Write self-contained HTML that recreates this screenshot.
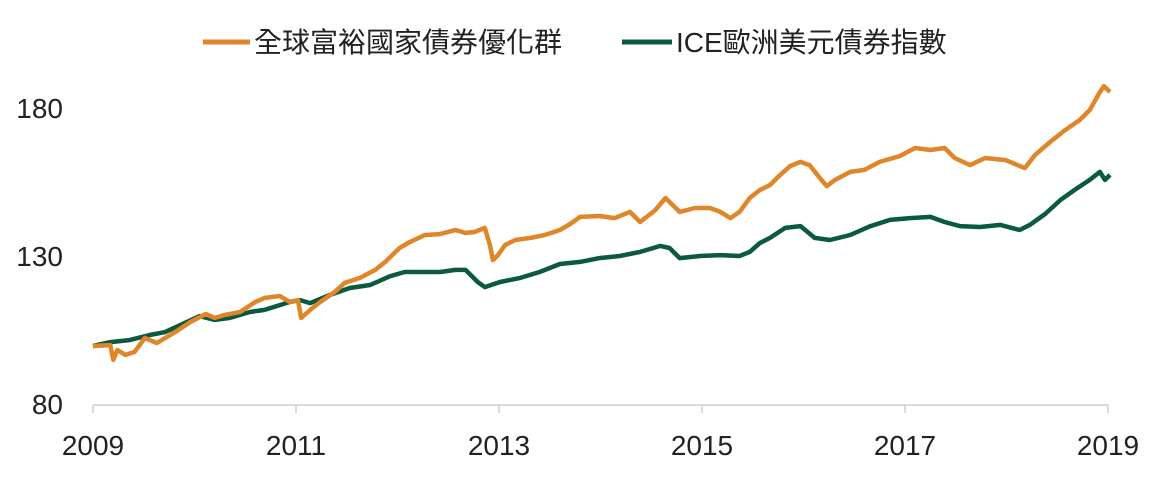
<!DOCTYPE html>
<html><head><meta charset="utf-8"><style>
body{margin:0;background:#fff;}
svg text{font-family:"Liberation Sans","Noto Sans CJK TC",sans-serif;fill:#222;}
</style></head><body>
<svg width="1153" height="473" viewBox="0 0 1153 473">
<g>
<line x1="203" y1="42" x2="250" y2="42" stroke="#E0862A" stroke-width="5"/>
<text x="254" y="52" font-size="28">全球富裕國家債券優化群</text>
<line x1="622" y1="42" x2="672" y2="42" stroke="#0B5A3F" stroke-width="5"/>
<text x="676" y="52" font-size="28">ICE歐洲美元債券指數</text>
</g>
<g id="axes"></g>
<g id="series"></g>
</svg>
<script>
const yTicks=[80,130,180];
const xTicks=[2009,2011,2013,2015,2017,2019];
const globalYears=[2009.00,2009.17,2009.20,2009.24,2009.32,2009.41,2009.51,2009.63,2009.71,2009.81,2009.96,2010.11,2010.20,2010.30,2010.45,2010.60,2010.69,2010.84,2010.94,2011.02,2011.05,2011.14,2011.24,2011.38,2011.48,2011.63,2011.78,2011.88,2012.02,2012.12,2012.27,2012.42,2012.57,2012.67,2012.76,2012.86,2012.91,2012.94,2012.99,2013.06,2013.16,2013.31,2013.45,2013.60,2013.70,2013.80,2013.99,2014.14,2014.29,2014.39,2014.54,2014.64,2014.78,2014.93,2015.08,2015.18,2015.28,2015.37,2015.47,2015.57,2015.67,2015.77,2015.87,2015.97,2016.06,2016.16,2016.23,2016.31,2016.46,2016.60,2016.75,2016.95,2017.10,2017.25,2017.39,2017.49,2017.64,2017.79,2017.99,2018.18,2018.28,2018.43,2018.58,2018.72,2018.82,2018.92,2018.96,2019.02];
const globalValues=[99.6,99.9,94.9,98.2,96.6,97.6,102.3,100.6,102.3,104.3,107.7,110.4,109.1,110.1,111.1,114.5,115.8,116.5,114.5,115.1,109.1,111.8,114.5,117.8,120.9,122.6,125.3,128.0,132.7,134.7,137.1,137.4,138.8,137.8,138.1,139.5,133.7,128.6,130.3,133.7,135.4,136.1,137.1,138.8,140.8,143.2,143.5,142.8,144.9,141.5,145.5,149.6,144.9,146.2,146.2,144.9,142.8,144.9,149.6,152.3,154.0,157.4,160.4,161.8,160.7,156.4,153.6,155.7,158.4,159.1,161.8,163.8,166.5,165.8,166.5,163.1,160.7,163.1,162.4,159.7,164.1,168.5,172.6,175.9,179.3,185.4,187.4,185.4];
const iceYears=[2009.00,2009.17,2009.36,2009.56,2009.71,2009.86,2010.05,2010.20,2010.35,2010.55,2010.69,2010.84,2010.94,2011.04,2011.14,2011.33,2011.53,2011.73,2011.93,2012.07,2012.22,2012.42,2012.57,2012.67,2012.79,2012.86,2013.01,2013.21,2013.40,2013.60,2013.80,2013.99,2014.19,2014.39,2014.59,2014.68,2014.78,2014.98,2015.18,2015.37,2015.47,2015.57,2015.67,2015.82,2015.97,2016.11,2016.26,2016.46,2016.66,2016.85,2017.05,2017.25,2017.39,2017.54,2017.74,2017.94,2018.13,2018.23,2018.38,2018.53,2018.67,2018.82,2018.92,2018.97,2019.02];
const iceValues=[99.6,100.9,101.6,103.3,104.3,106.7,109.7,108.4,109.1,111.1,111.8,113.4,114.5,115.1,114.1,116.8,119.2,120.2,123.2,124.6,124.6,124.6,125.3,125.3,121.2,119.5,121.2,122.6,124.6,127.3,128.0,129.3,130.0,131.4,133.4,132.7,129.3,130.0,130.3,130.0,131.4,134.4,136.1,139.5,140.1,136.1,135.4,137.1,140.1,142.2,142.8,143.2,141.5,140.1,139.8,140.5,138.8,140.5,144.2,148.9,152.3,155.7,158.4,155.7,157.4];

const NS="http://www.w3.org/2000/svg";
const xS=y=>93+(y-2009)*101.5;
const yS=v=>404-(v-80)*2.96;
const axes=document.getElementById('axes');
const ax=document.createElementNS(NS,'line');
ax.setAttribute('x1',93);ax.setAttribute('x2',1108);ax.setAttribute('y1',405);ax.setAttribute('y2',405);
ax.setAttribute('stroke','#cfcfcf');ax.setAttribute('stroke-width','1.5');


axes.appendChild(ax);
yTicks.forEach(t=>{
  const tx=document.createElementNS(NS,'text');
  tx.setAttribute('x',63);tx.setAttribute('y',yS(t)+10);tx.setAttribute('font-size','28');tx.setAttribute('text-anchor','end');
  tx.textContent=t;
  
  
  axes.appendChild(tx);
});
xTicks.forEach(t=>{
  const l=document.createElementNS(NS,'line');
  l.setAttribute('x1',xS(t));l.setAttribute('x2',xS(t));l.setAttribute('y1',405);l.setAttribute('y2',413);
  l.setAttribute('stroke','#cfcfcf');l.setAttribute('stroke-width','1.5');
  
  
  axes.appendChild(l);
  const tx=document.createElementNS(NS,'text');
  tx.setAttribute('x',xS(t));tx.setAttribute('y',455);tx.setAttribute('font-size','28');tx.setAttribute('text-anchor','middle');
  tx.textContent=t;
  
  
  axes.appendChild(tx);
});
const series=document.getElementById('series');
function draw(xs,vs,color,name){
  const p=document.createElementNS(NS,'path');
  p.setAttribute('d',xs.map((x,i)=>(i?'L':'M')+xS(x).toFixed(1)+','+yS(vs[i]).toFixed(1)).join(''));
  p.setAttribute('fill','none');p.setAttribute('stroke',color);p.setAttribute('stroke-width','4.5');p.setAttribute('stroke-linejoin','round');
  
  
  series.appendChild(p);
}
draw(iceYears,iceValues,'#0B5A3F','ice-eurodollar-line');
draw(globalYears,globalValues,'#E0862A','global-rich-bond-line');
</script>
</body></html>
